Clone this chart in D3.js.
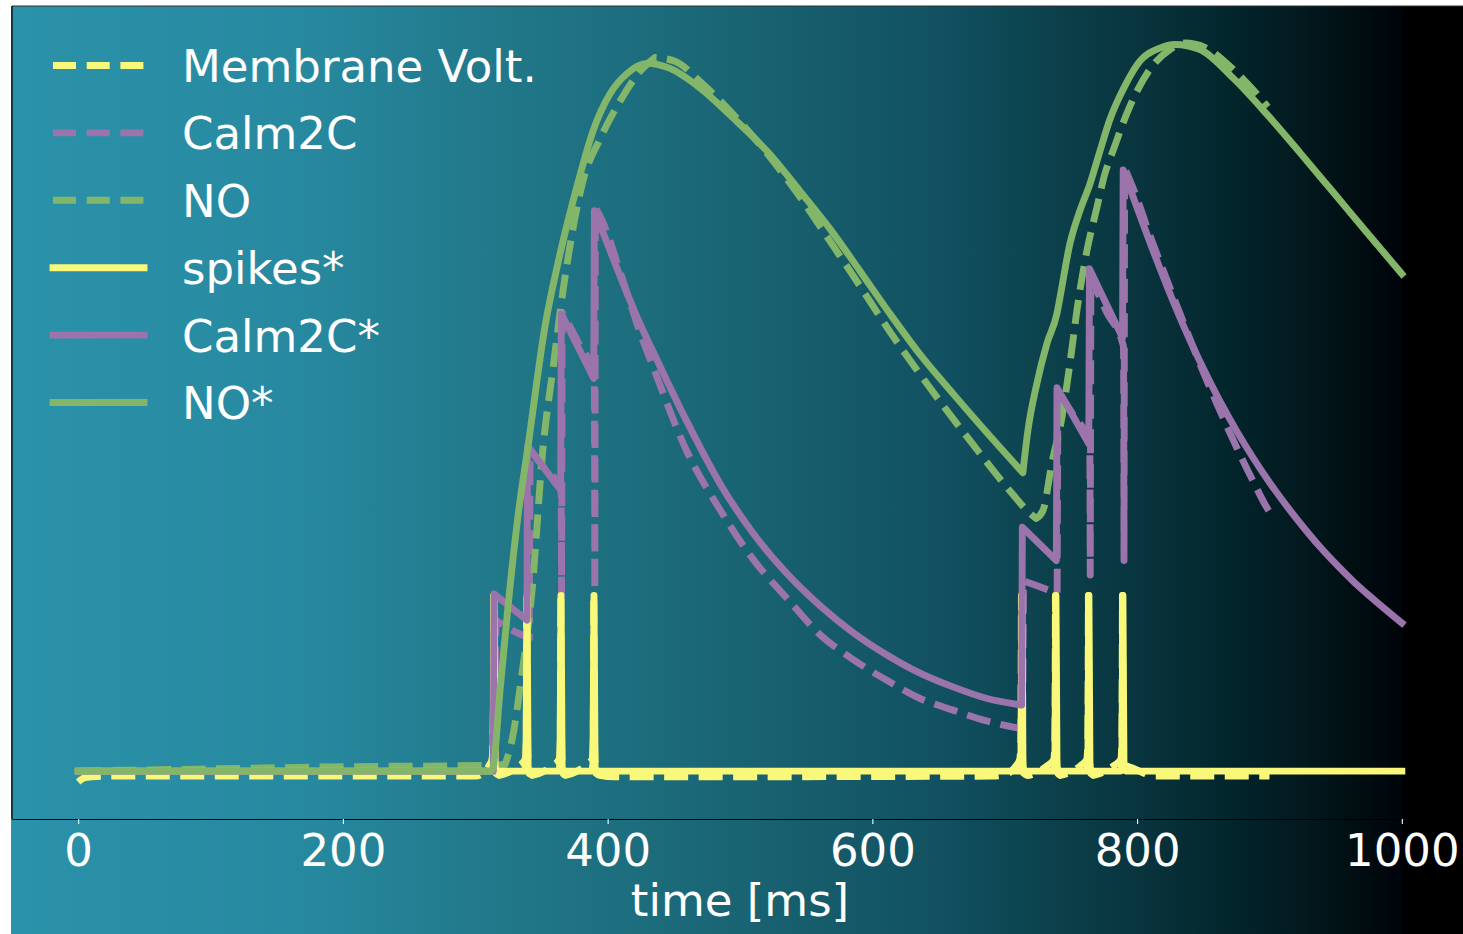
<!DOCTYPE html>
<html><head><meta charset="utf-8">
<script src="https://cdn.jsdelivr.net/npm/d3@7"></script>
<style>body{margin:0;background:#fff;} svg{display:block;font-family:"DejaVu Sans",sans-serif;}</style>
</head><body><svg id="c" width="1463" height="934"></svg>
<script>
// ---------- data (time in ms, normalised value) ----------
const xTicks = [0, 200, 400, 600, 800, 1000];
const xLabel = "time [ms]";
const legendLabels = ["Membrane Volt.", "Calm2C", "NO", "spikes*", "Calm2C*", "NO*"];

const membraneVolt = [
[0,-0.015],[2,-0.012],[5,-0.009],[10,-0.008],[20,-0.007],[300,-0.007],[305,-0.004],[308,0.001],[310.5,0.008],[312.6,0.016],[313.5,0.04],[313.9,0.242],[314.6,0.03],[315.5,-0.003],[318,-0.006],[326,-0.001],[333,0.007],[337.6,0.016],[338.5,0.04],[338.9,0.242],[339.6,0.03],[340.5,-0.003],[343,-0.006],[351,-0.001],[358,0.007],[363.3,0.016],[364.2,0.04],[364.6,0.242],[365.3,0.03],[366.2,-0.003],[368,-0.006],[376,-0.001],[383,0.007],[388.2,0.016],[389.1,0.04],[389.5,0.242],[390.2,0.03],[391.1,-0.003],[394,-0.006],[405,-0.008],[690,-0.007],[700,-0.005],[705,0.0],[708,0.006],[711.3,0.016],[712.2,0.04],[712.6,0.242],[713.3,0.03],[714.2,-0.003],[717,-0.006],[725,-0.001],[732,0.007],[737.0,0.016],[737.9,0.04],[738.3,0.242],[739.0,0.03],[739.9,-0.003],[742,-0.006],[750,-0.001],[757,0.007],[761.9,0.016],[762.8,0.04],[763.2,0.242],[763.9,0.03],[764.8,-0.003],[767,-0.006],[775,-0.001],[782,0.007],[787.6,0.016],[788.5,0.04],[788.9,0.242],[789.6,0.03],[790.5,0.008],[797,0.004],[804,-0.002],[812,-0.007],[900,-0.007]
];

const calm2C = [
[0,0],[315.0,0],[315.6,0.208],[325,0.197],[340.8,0.183],[341.4,0.442],[352,0.418],[364.8,0.388],[365.2,0.245],[365.7,0.632],[378,0.590],[389.9,0.545],[390.3,0.25],[390.8,0.776],
[396,0.758],[409.4,0.688],[424.5,0.604],[434.3,0.557],[460.0,0.440],[484.9,0.360],[509.8,0.292],[535.5,0.238],[560.4,0.188],[585.3,0.154],[611.0,0.125],[636.0,0.100],[660.9,0.084],[686.6,0.069],[713.5,0.058],
[714.2,0.262],[725,0.255],[739.6,0.245],[740.2,0.524],[752,0.49],[764.2,0.452],[764.6,0.27],[765.1,0.680],[777,0.632],[789.7,0.585],[790.1,0.29],[790.6,0.831],
[798.3,0.797],[809.7,0.738],[824.8,0.666],[837.6,0.606],[849.7,0.551],[860.3,0.506],[870.1,0.466],[879.9,0.428],[887.5,0.400],[898.0,0.363],[900,0.357]
];

const no = [
[0,0],[100,0.003],[200,0.006],[310,0.008],[322.5,0.009],[327.8,0.043],[334.6,0.125],[342.9,0.249],[351.2,0.446],[358.8,0.556],[366.3,0.662],[373.9,0.748],[381.4,0.813],[394.3,0.871],[409.4,0.923],[424.5,0.964],[435.8,0.983],[450.9,0.978],[469.8,0.950],[494.7,0.905],[520.4,0.851],[545.3,0.791],[568.0,0.730],[585.3,0.683],[615.6,0.599],[643.5,0.528],[676.0,0.450],[706.2,0.381],[716.8,0.359],[723.6,0.348],[728.9,0.359],[735.6,0.424],[743.2,0.487],[749.2,0.561],[755.3,0.644],[762.1,0.717],[769.6,0.776],[775.7,0.823],[781.7,0.854],[794.6,0.916],[809.7,0.967],[824.8,0.994],[836.1,1.003],[851.2,0.997],[872.4,0.967],[887.5,0.939],[898.8,0.915]
];

const spikesStar = [
[0,0],[312.5,0],[313.4,0.01],[314.2,0.242],[315.0,0.006],[316.5,0],
[337.4,0],[338.3,0.01],[339.1,0.242],[339.9,0.006],[341.4,0],
[363.1,0],[364.0,0.01],[364.8,0.242],[365.6,0.006],[367.1,0],
[388.0,0],[388.9,0.01],[389.7,0.242],[390.5,0.006],[392.0,0],
[711.3,0],[712.2,0.01],[713.0,0.242],[713.8,0.006],[715.3,0],
[737.0,0],[737.9,0.01],[738.7,0.242],[739.5,0.006],[741.0,0],
[761.9,0],[762.8,0.01],[763.6,0.242],[764.4,0.006],[765.9,0],
[787.6,0],[788.5,0.01],[789.3,0.242],[790.1,0.006],[791.6,0],
[1000,0]
];

const calm2CStar = [
[0,0],[313.6,0],[314.2,0.244],[339.0,0.208],[339.5,0.448],[364.5,0.387],[365.0,0.630],[389.5,0.541],[390.0,0.772],
[396.5,0.742],[409.4,0.682],[424.5,0.616],[434.3,0.578],[460.0,0.481],[484.9,0.396],[509.8,0.328],[535.5,0.272],[560.4,0.228],[585.3,0.191],[611.0,0.160],[636.0,0.135],[660.9,0.116],[686.6,0.100],[712.8,0.091],
[713.3,0.336],[739.0,0.290],[739.5,0.528],[763.5,0.451],[764.0,0.692],[789.0,0.597],[789.5,0.828],
[796.8,0.792],[811.9,0.718],[824.8,0.658],[837.6,0.603],[849.7,0.556],[862.5,0.510],[875.4,0.468],[887.5,0.432],[900.3,0.397],[913.1,0.365],[925.2,0.337],[938.1,0.309],[950.9,0.284],[963.0,0.262],[975.8,0.241],[1000,0.204]
];

const noStar = [
[0,0],[312,0],[313.4,0.004],[318.7,0.111],[324.8,0.228],[332.3,0.352],[339.9,0.448],[352.7,0.613],[362.5,0.700],[376.9,0.806],[389.0,0.882],[401.8,0.933],[414.7,0.961],[429.8,0.975],[447.1,0.968],[469.8,0.941],[494.7,0.900],[520.4,0.854],[545.3,0.799],[568.0,0.747],[590.6,0.689],[613.3,0.630],[636.0,0.574],[660.9,0.520],[686.6,0.466],[713.7,0.411],[717.5,0.469],[724.3,0.534],[731.9,0.589],[739.4,0.630],[741.7,0.652],[749.2,0.726],[756.8,0.772],[764.4,0.809],[771.9,0.854],[779.5,0.898],[790.8,0.944],[802.1,0.978],[817.2,0.996],[828.6,1.001],[847.4,0.994],[872.4,0.955],[898.0,0.905],[923.0,0.852],[947.9,0.798],[973.6,0.742],[1000,0.685]
];

// ---------- styling / layout ----------
(function(){
const YEL = "#f9f87b", PUR = "#9a74ab", GRN = "#84b669";
const series = [
  {data: membraneVolt, color: YEL, dashed: true},
  {data: calm2C,       color: PUR, dashed: true},
  {data: no,           color: GRN, dashed: true},
  {data: spikesStar,   color: YEL, dashed: false},
  {data: calm2CStar,   color: PUR, dashed: false},
  {data: noStar,       color: GRN, dashed: false}
];
const LW = 6.9, DASH = "24,10.5", FS = 45;

const svg = d3.select("#c");
const W = 1463, H = 934;
const pL = 12, pR = 1468, pT = 6, pB = 819;

const defs = svg.append("defs");
const grad = defs.append("linearGradient").attr("id","bg")
  .attr("gradientUnits","userSpaceOnUse").attr("x1",11).attr("x2",1463).attr("y1",0).attr("y2",0);
[[11,"#2a92aa"],[300,"#2789a0"],[500,"#217889"],[650,"#1c6c7c"],[800,"#175e6d"],[950,"#115060"],
 [1050,"#0c414c"],[1150,"#08333c"],[1230,"#03252c"],[1300,"#021a1f"],[1350,"#010f13"],[1401,"#00040b"],[1404,"#000000"],[1463,"#000000"]]
 .forEach(([p,c]) => grad.append("stop").attr("offset", ((p-11)/1452)).attr("stop-color", c));
defs.append("clipPath").attr("id","clip").append("rect")
  .attr("x",pL).attr("y",pT).attr("width",pR-pL).attr("height",pB-pT);

svg.append("rect").attr("x",11).attr("y",pT).attr("width",W-11).attr("height",H-pT).attr("fill","url(#bg)");

const x = d3.scaleLinear().domain([-50,1050]).range([pL,pR]);
const y = d3.scaleLinear().domain([-0.066,1.054]).range([pB,pT]);

// smooth path through the points, keeping sharp corners (jumps, minima) sharp
function smoothPath(data){
  const P = data.map(d => [x(d[0]), y(d[1])]);
  const cut = [0];
  for (let i = 1; i < P.length-1; i++){
    const a1 = Math.atan2(P[i][1]-P[i-1][1], P[i][0]-P[i-1][0]);
    const a2 = Math.atan2(P[i+1][1]-P[i][1], P[i+1][0]-P[i][0]);
    let d = Math.abs(a2-a1); if (d > Math.PI) d = 2*Math.PI - d;
    if (d > 0.87) cut.push(i);
  }
  cut.push(P.length-1);
  const p = d3.path(); let started = false;
  const ctx = {
    moveTo(a,b){ if (started) p.lineTo(a,b); else { p.moveTo(a,b); started = true; } },
    lineTo(a,b){ p.lineTo(a,b); },
    bezierCurveTo(a,b,c,d,e,f){ p.bezierCurveTo(a,b,c,d,e,f); },
    closePath(){ p.closePath(); }
  };
  const ln = d3.line().curve(d3.curveMonotoneX).context(ctx);
  for (let k = 0; k < cut.length-1; k++) ln(P.slice(cut[k], cut[k+1]+1));
  return p.toString();
}

const plot = svg.append("g").attr("clip-path","url(#clip)");
series.forEach(s => {
  plot.append("path").attr("d", smoothPath(s.data))
    .attr("fill","none").attr("stroke", s.color).attr("stroke-width", LW)
    .attr("stroke-linejoin","round")
    .attr("stroke-linecap", s.dashed ? "butt" : "square")
    .attr("stroke-dasharray", s.dashed ? DASH : null);
});

// spines
svg.append("line").attr("x1",pL).attr("x2",W).attr("y1",pT).attr("y2",pT).attr("stroke","#333").attr("stroke-width",1.2);
svg.append("line").attr("x1",pL).attr("x2",pL).attr("y1",pT).attr("y2",pB).attr("stroke","#000").attr("stroke-width",1.2);

// x axis
const ax = svg.append("g").attr("transform",`translate(0,${pB})`)
  .call(d3.axisBottom(x).tickValues(xTicks).tickFormat(d3.format("d")).tickSize(5).tickSizeOuter(0).tickPadding(10));
ax.select(".domain").attr("stroke","#000").attr("stroke-width",1.2);
ax.selectAll(".tick line").attr("stroke","#fff").attr("stroke-width",1.1);
ax.selectAll(".tick text").attr("fill","#fff").attr("font-size",FS).attr("font-family","DejaVu Sans");

svg.append("text").attr("x",(pL+pR)/2).attr("y",916).attr("text-anchor","middle")
  .attr("fill","#fff").attr("font-size",FS).text(xLabel);

// legend
const lg = svg.append("g");
legendLabels.forEach((lab,i) => {
  const s = series[i];
  const ly = 65.5 + i*67.4;
  lg.append("line").attr("x1",53).attr("x2",144).attr("y1",ly).attr("y2",ly)
    .attr("stroke",s.color).attr("stroke-width",LW)
    .attr("stroke-linecap", s.dashed ? "butt" : "square")
    .attr("stroke-dasharray", s.dashed ? "23,10.7" : null);
  lg.append("text").attr("x",182).attr("y",ly+16.5).attr("fill","#fff").attr("font-size",FS).text(lab);
});
})();
</script></body></html>
